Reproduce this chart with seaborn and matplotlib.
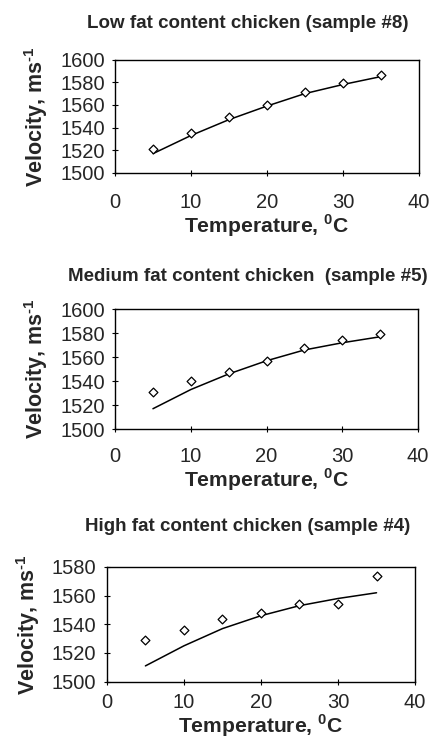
import numpy as np
import pandas as pd
import seaborn as sns
import matplotlib
matplotlib.use("Agg")
import matplotlib.pyplot as plt

sns.set_style("ticks")
plt.rcParams['font.family'] = ['Liberation Sans', 'DejaVu Sans']
plt.rcParams['mathtext.fontset'] = 'custom'
plt.rcParams['mathtext.rm'] = 'Liberation Sans:bold'
plt.rcParams['mathtext.bf'] = 'Liberation Sans:bold'

temperature = [5, 10, 15, 20, 25, 30, 35]

# measured velocities (markers)
low_measured = [1521, 1535, 1549, 1560, 1571, 1579, 1586]
medium_measured = [1531, 1540, 1548, 1557, 1568, 1574, 1579]
high_measured = [1529, 1536, 1544, 1548, 1554, 1554, 1574]

# model curves (lines)
low_model = [1517, 1533, 1547, 1559, 1570, 1578, 1585]
medium_model = [1517, 1533, 1546, 1557, 1566, 1572, 1577]
high_model = [1511, 1525, 1537, 1546, 1553, 1558, 1562]

titles = ['Low fat content chicken (sample #8)',
          'Medium fat content chicken  (sample #5)',
          'High fat content chicken (sample #4)']
y_ticks = [[1500, 1520, 1540, 1560, 1580, 1600],
           [1500, 1520, 1540, 1560, 1580, 1600],
           [1500, 1520, 1540, 1560, 1580]]
x_ticks = [0, 10, 20, 30, 40]

measured = [low_measured, medium_measured, high_measured]
model = [low_model, medium_model, high_model]

fig = plt.figure(figsize=(4.31, 7.45), dpi=100)
positions = [[0.267, 0.768, 0.705, 0.152],
             [0.267, 0.424, 0.703, 0.161],
             [0.248, 0.085, 0.715, 0.154]]
title_y = [0.968, 0.629, 0.293]
x_pads = [12, 10.5, 5.5]

for i in range(3):
    ax = fig.add_axes(positions[i])
    df = pd.DataFrame({'T': temperature, 'meas': measured[i], 'fit': model[i]})
    sns.lineplot(x='T', y='fit', data=df, ax=ax, color='black', linewidth=1.1)
    sns.scatterplot(x='T', y='meas', data=df, ax=ax, marker='D', s=20,
                    facecolor='white', edgecolor='black', linewidth=0.9, zorder=3)
    ax.set_xlim(0, 40)
    ax.set_ylim(y_ticks[i][0], y_ticks[i][-1])
    ax.set_xticks(x_ticks)
    ax.set_yticks(y_ticks[i])
    ax.tick_params(axis='both', labelsize=14.5, direction='inout', length=5,
                   width=0.8, color='black')
    ax.tick_params(axis='y', pad=5)
    ax.tick_params(axis='x', pad=x_pads[i])
    for s in ax.spines.values():
        s.set_linewidth(1.0)
        s.set_color('black')
    ax.set_xlabel('Temperature, $^{0}$C', fontsize=15.2, fontweight='bold', labelpad=0.5)
    ax.set_ylabel(r'Velocity, ms$^{\text{-}1}$', fontsize=15.5, fontweight='bold', labelpad=7)
    fig.text(0.574, title_y[i], titles[i], ha='center', va='center',
             fontsize=13.5, fontweight='bold')

fig.savefig('out.png', dpi=100)
